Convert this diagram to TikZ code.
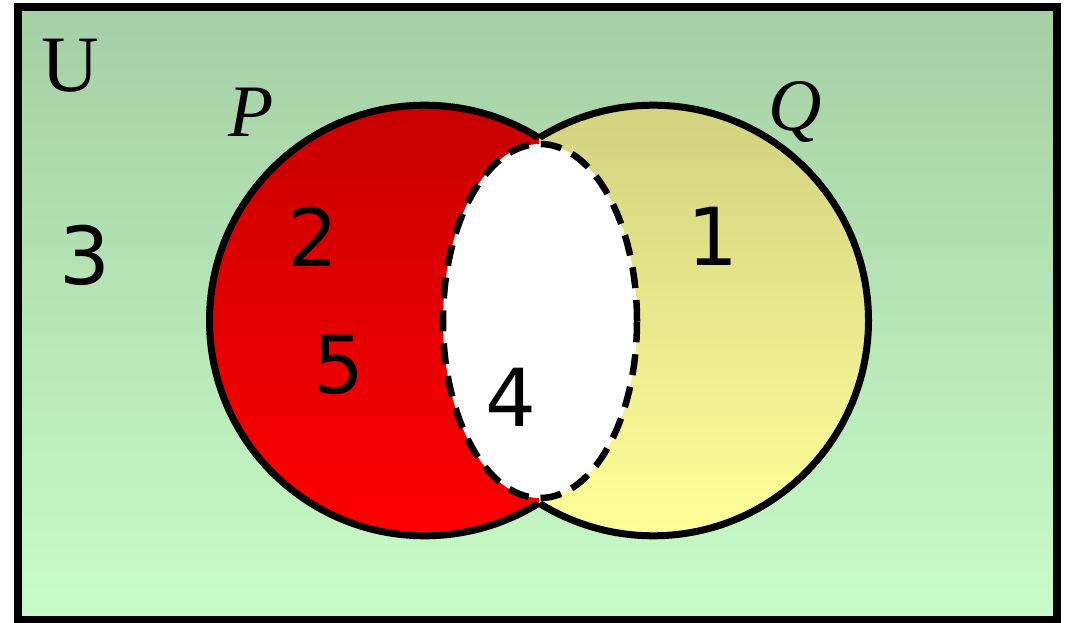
\documentclass[tikz,border=0pt]{standalone}
\usepackage{fontspec}
\setmainfont{Liberation Serif}
\newfontfamily\digitfont{DejaVu Sans}
\definecolor{bgtop}{RGB}{165,207,165}
\definecolor{bgbot}{RGB}{200,252,200}
\definecolor{redtop}{RGB}{200,0,0}
\definecolor{redbot}{RGB}{255,0,0}
\definecolor{yeltop}{RGB}{210,210,128}
\definecolor{yelbot}{RGB}{255,255,153}
\tikzset{
  setlabel/.style={inner sep=0pt, font=\fontsize{74}{74}\selectfont\itshape},
  numlabel/.style={inner sep=0pt, font=\digitfont\fontsize{80}{80}\selectfont},
  ring/.style={draw=black, line width=7pt},
}
\begin{document}
\begin{tikzpicture}[x=1pt,y=1pt]
\useasboundingbox (0,0) rectangle (1070,622);
% universe
\shade[top color=bgtop, bottom color=bgbot] (18,614.5) rectangle (1057,2);
\draw[line width=8pt] (18,614.5) rectangle (1057,2);
\coordinate (pc) at (424.8,301.5);
\coordinate (qc) at (653.2,301.5);
\coordinate (ec) at (540,301);
% P fill
\shade[top color=redtop, bottom color=redbot] (pc) circle[radius=215.3];
% Q fill, right of the meeting points
\begin{scope}
  \clip (539,0) rectangle (1070,622);
  \shade[top color=yeltop, bottom color=yelbot] (qc) circle[radius=215.3];
\end{scope}
% outlines, only outside the other set
\begin{scope}[even odd rule]
  \clip (0,0) rectangle (1070,622) (qc) circle[radius=215.3];
  \draw[ring] (pc) circle[radius=215.3];
\end{scope}
\begin{scope}[even odd rule]
  \clip (0,0) rectangle (1070,622) (pc) circle[radius=215.3];
  \draw[ring] (qc) circle[radius=215.3];
\end{scope}
% white ellipse
\fill[white] (ec) ellipse[x radius=97, y radius=177];
\draw[line width=6.5pt, dash pattern=on 21pt off 12pt] (ec) ellipse[x radius=97, y radius=177];
% labels
\node[inner sep=0pt, font=\fontsize{80}{80}\selectfont] (U) at (70,556) {U};
\node[setlabel] (Pl) at (251,510) {P};
\node[setlabel] (Ql) at (795,510) {Q};
\node[numlabel] (n3) at (85,367) {3};
\node[numlabel] (n2) at (313,385) {2};
\node[numlabel] (n5) at (339,257) {5};
\node[numlabel] (n4) at (511,225) {4};
\node[numlabel] (n1) at (713,386) {1};
\end{tikzpicture}
\end{document}
